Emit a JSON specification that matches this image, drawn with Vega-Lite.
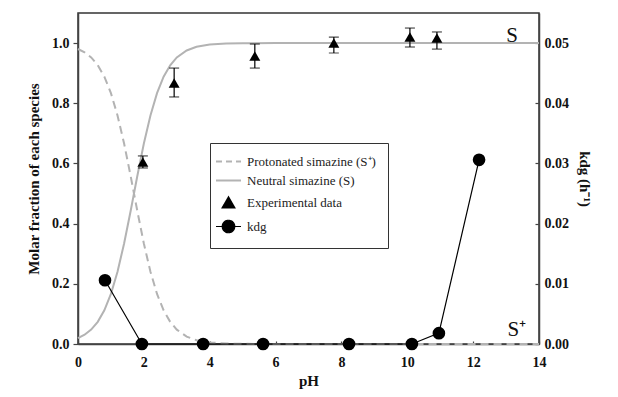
{
  "$schema": "https://vega.github.io/schema/vega-lite/v6.json",
  "width": 461,
  "height": 331,
  "autosize": {"type": "none"},
  "padding": {"left": 78, "top": 13, "right": 79, "bottom": 53},
  "background": "white",
  "config": {
    "view": {"stroke": "#333333", "strokeWidth": 1.5},
    "font": "Liberation Serif",
    "legend": {"labelFont": "Liberation Serif", "labelFontSize": 13, "labelFontWeight": "normal"},
    "axis": {
      "labelFont": "Liberation Serif",
      "labelFontSize": 14,
      "labelFontWeight": "bold",
      "labelColor": "#111111",
      "titleFont": "Liberation Serif",
      "titleFontSize": 15,
      "titleFontWeight": "bold",
      "titleColor": "#111111",
      "grid": false,
      "domainColor": "#444444",
      "domainWidth": 1.5,
      "tickColor": "#444444",
      "tickWidth": 1.2
    }
  },
  "datasets": {
    "curves": [
      {"pH": 0.0, "frac": 0.9804, "series": "Protonated simazine (S⁺)"},
      {"pH": 0.2, "frac": 0.9693, "series": "Protonated simazine (S⁺)"},
      {"pH": 0.4, "frac": 0.9523, "series": "Protonated simazine (S⁺)"},
      {"pH": 0.6, "frac": 0.9264, "series": "Protonated simazine (S⁺)"},
      {"pH": 0.8, "frac": 0.8882, "series": "Protonated simazine (S⁺)"},
      {"pH": 1.0, "frac": 0.8337, "series": "Protonated simazine (S⁺)"},
      {"pH": 1.2, "frac": 0.7597, "series": "Protonated simazine (S⁺)"},
      {"pH": 1.4, "frac": 0.6661, "series": "Protonated simazine (S⁺)"},
      {"pH": 1.6, "frac": 0.5573, "series": "Protonated simazine (S⁺)"},
      {"pH": 1.7, "frac": 0.5, "series": "Protonated simazine (S⁺)"},
      {"pH": 1.8, "frac": 0.4427, "series": "Protonated simazine (S⁺)"},
      {"pH": 2.0, "frac": 0.3339, "series": "Protonated simazine (S⁺)"},
      {"pH": 2.2, "frac": 0.2403, "series": "Protonated simazine (S⁺)"},
      {"pH": 2.4, "frac": 0.1663, "series": "Protonated simazine (S⁺)"},
      {"pH": 2.6, "frac": 0.1118, "series": "Protonated simazine (S⁺)"},
      {"pH": 2.8, "frac": 0.0736, "series": "Protonated simazine (S⁺)"},
      {"pH": 3.0, "frac": 0.0477, "series": "Protonated simazine (S⁺)"},
      {"pH": 3.3, "frac": 0.0245, "series": "Protonated simazine (S⁺)"},
      {"pH": 3.6, "frac": 0.0124, "series": "Protonated simazine (S⁺)"},
      {"pH": 4.0, "frac": 0.005, "series": "Protonated simazine (S⁺)"},
      {"pH": 4.5, "frac": 0.0016, "series": "Protonated simazine (S⁺)"},
      {"pH": 5.0, "frac": 0.0005, "series": "Protonated simazine (S⁺)"},
      {"pH": 6.0, "frac": 0.0001, "series": "Protonated simazine (S⁺)"},
      {"pH": 14.0, "frac": 0.0, "series": "Protonated simazine (S⁺)"},
      {"pH": 0.0, "frac": 0.0196, "series": "Neutral simazine (S)"},
      {"pH": 0.2, "frac": 0.0307, "series": "Neutral simazine (S)"},
      {"pH": 0.4, "frac": 0.0477, "series": "Neutral simazine (S)"},
      {"pH": 0.6, "frac": 0.0736, "series": "Neutral simazine (S)"},
      {"pH": 0.8, "frac": 0.1118, "series": "Neutral simazine (S)"},
      {"pH": 1.0, "frac": 0.1663, "series": "Neutral simazine (S)"},
      {"pH": 1.2, "frac": 0.2403, "series": "Neutral simazine (S)"},
      {"pH": 1.4, "frac": 0.3339, "series": "Neutral simazine (S)"},
      {"pH": 1.6, "frac": 0.4427, "series": "Neutral simazine (S)"},
      {"pH": 1.7, "frac": 0.5, "series": "Neutral simazine (S)"},
      {"pH": 1.8, "frac": 0.5573, "series": "Neutral simazine (S)"},
      {"pH": 2.0, "frac": 0.6661, "series": "Neutral simazine (S)"},
      {"pH": 2.2, "frac": 0.7597, "series": "Neutral simazine (S)"},
      {"pH": 2.4, "frac": 0.8337, "series": "Neutral simazine (S)"},
      {"pH": 2.6, "frac": 0.8882, "series": "Neutral simazine (S)"},
      {"pH": 2.8, "frac": 0.9264, "series": "Neutral simazine (S)"},
      {"pH": 3.0, "frac": 0.9523, "series": "Neutral simazine (S)"},
      {"pH": 3.3, "frac": 0.9755, "series": "Neutral simazine (S)"},
      {"pH": 3.6, "frac": 0.9876, "series": "Neutral simazine (S)"},
      {"pH": 4.0, "frac": 0.995, "series": "Neutral simazine (S)"},
      {"pH": 4.5, "frac": 0.9984, "series": "Neutral simazine (S)"},
      {"pH": 5.0, "frac": 0.9995, "series": "Neutral simazine (S)"},
      {"pH": 6.0, "frac": 0.9999, "series": "Neutral simazine (S)"},
      {"pH": 14.0, "frac": 1.0, "series": "Neutral simazine (S)"}
    ],
    "exp": [
      {"pH": 1.97, "val": 0.605, "lo": 0.585, "hi": 0.625, "series": "Experimental data"},
      {"pH": 2.92, "val": 0.867, "lo": 0.821, "hi": 0.917, "series": "Experimental data"},
      {"pH": 5.37, "val": 0.957, "lo": 0.917, "hi": 0.997, "series": "Experimental data"},
      {"pH": 7.77, "val": 1.0, "lo": 0.967, "hi": 1.02, "series": "Experimental data"},
      {"pH": 10.08, "val": 1.02, "lo": 0.987, "hi": 1.05, "series": "Experimental data"},
      {"pH": 10.9, "val": 1.017, "lo": 0.98, "hi": 1.037, "series": "Experimental data"}
    ],
    "kdg": [
      {"pH": 0.82, "k": 0.0106, "series": "kdg"},
      {"pH": 1.94, "k": 0.0, "series": "kdg"},
      {"pH": 3.8, "k": 0.0, "series": "kdg"},
      {"pH": 5.62, "k": 0.0, "series": "kdg"},
      {"pH": 8.23, "k": 0.0, "series": "kdg"},
      {"pH": 10.14, "k": 0.0, "series": "kdg"},
      {"pH": 10.96, "k": 0.0018, "series": "kdg"},
      {"pH": 12.18, "k": 0.0306, "series": "kdg"}
    ],
    "labels": [
      {"pH": 13.18, "v": 1.024, "txt": "S"},
      {"pH": 13.33, "v": 0.045, "txt": "S⁺"}
    ]
  },
  "encoding": {
    "x": {
      "field": "pH",
      "type": "quantitative",
      "scale": {"domain": [0, 14], "nice": false, "zero": false},
      "axis": {"values": [0, 2, 4, 6, 8, 10, 12, 14], "title": "pH", "tickSize": -3, "labelPadding": 14, "titlePadding": 4, "labelFlush": false}
    }
  },
  "layer": [
    {
      "layer": [
        {
          "data": {"name": "curves"},
          "transform": [{"filter": "datum.series == 'Protonated simazine (S⁺)'"}],
          "mark": {"type": "line", "strokeDash": [8, 5], "strokeWidth": 2},
          "encoding": {
            "y": {
              "field": "frac", "type": "quantitative", "title": "Molar fraction of each species",
              "scale": {"domain": [0, 1.1], "nice": false},
              "axis": {"values": [0, 0.2, 0.4, 0.6, 0.8, 1.0], "format": ".1f", "tickSize": 5, "labelPadding": 4, "titlePadding": 10}
            },
            "color": {
              "field": "series", "type": "nominal",
              "scale": {
                "domain": ["Protonated simazine (S⁺)", "Neutral simazine (S)", "Experimental data", "kdg"],
                "range": ["#b3b3b3", "#b3b3b3", "#000000", "#000000"]
              },
              "legend": {
                "orient": "none", "legendX": 132, "legendY": 130, "direction": "vertical",
                "title": null, "strokeColor": "#333333", "fillColor": "white", "padding": 12,
                "labelFont": "Liberation Serif", "labelFontSize": 13, "labelColor": "#222222",
                "labelFontWeight": "normal", "rowPadding": 5, "labelOffset": 12, "symbolSize": 625,
                "labelLimit": 300,
                "encode": {
                  "symbols": {
                    "update": {
                      "shape": {"signal": "datum.value == 'Experimental data' ? 'triangle-up' : (datum.value == 'kdg' ? 'M-1,0H1M0.5,0A0.5,0.5 0 1,1 -0.5,0A0.5,0.5 0 1,1 0.5,0Z' : 'stroke')"},
                      "size": {"signal": "datum.value == 'Experimental data' ? 130 : 625"},
                      "fill": {"signal": "(datum.value == 'Experimental data' || datum.value == 'kdg') ? '#000000' : 'transparent'"},
                      "stroke": {"signal": "datum.value == 'Experimental data' ? 'transparent' : (datum.value == 'kdg' ? '#000000' : '#b3b3b3')"},
                      "strokeWidth": {"signal": "datum.value == 'kdg' ? 1.2 : 2"},
                      "strokeDash": {"signal": "datum.value == 'Protonated simazine (S⁺)' ? [6, 4] : [1, 0]"},
                      "opacity": {"value": 1}
                    }
                  }
                }
              }
            }
          }
        },
        {
          "data": {"name": "curves"},
          "transform": [{"filter": "datum.series == 'Neutral simazine (S)'"}],
          "mark": {"type": "line", "strokeWidth": 2},
          "encoding": {
            "y": {"field": "frac", "type": "quantitative", "title": "Molar fraction of each species"},
            "color": {"field": "series", "type": "nominal", "legend": null}
          }
        },
        {
          "data": {"name": "exp"},
          "mark": {"type": "errorbar", "color": "#000000", "ticks": {"size": 10, "thickness": 1.2}, "rule": {"strokeWidth": 1.2}},
          "encoding": {
            "y": {"field": "lo", "type": "quantitative", "title": "Molar fraction of each species"},
            "y2": {"field": "hi"}
          }
        },
        {
          "data": {"name": "exp"},
          "mark": {"type": "point", "shape": "triangle-up", "filled": true, "size": 120, "opacity": 1},
          "encoding": {
            "y": {"field": "val", "type": "quantitative", "title": "Molar fraction of each species"},
            "color": {"field": "series", "type": "nominal", "legend": null}
          }
        },
        {
          "data": {"name": "labels"},
          "mark": {"type": "text", "font": "Liberation Serif", "fontSize": 21, "color": "#111111", "baseline": "middle", "align": "center"},
          "encoding": {
            "y": {"field": "v", "type": "quantitative", "title": "Molar fraction of each species"},
            "text": {"field": "txt"}
          }
        }
      ]
    },
    {
      "layer": [
        {
          "data": {"name": "kdg"},
          "mark": {"type": "line", "color": "#000000", "strokeWidth": 1.2},
          "encoding": {
            "y": {
              "field": "k", "type": "quantitative", "title": "kdg (h⁻¹)",
              "scale": {"domain": [0, 0.055], "nice": false},
              "axis": {"orient": "right", "values": [0, 0.01, 0.02, 0.03, 0.04, 0.05], "format": ".2f", "tickSize": -4, "labelPadding": 9, "titlePadding": 8}
            }
          }
        },
        {
          "data": {"name": "kdg"},
          "mark": {"type": "circle", "size": 160, "opacity": 1},
          "encoding": {
            "y": {"field": "k", "type": "quantitative", "title": "kdg (h⁻¹)"},
            "color": {"field": "series", "type": "nominal", "legend": null}
          }
        }
      ]
    }
  ],
  "resolve": {"scale": {"y": "independent"}}
}
